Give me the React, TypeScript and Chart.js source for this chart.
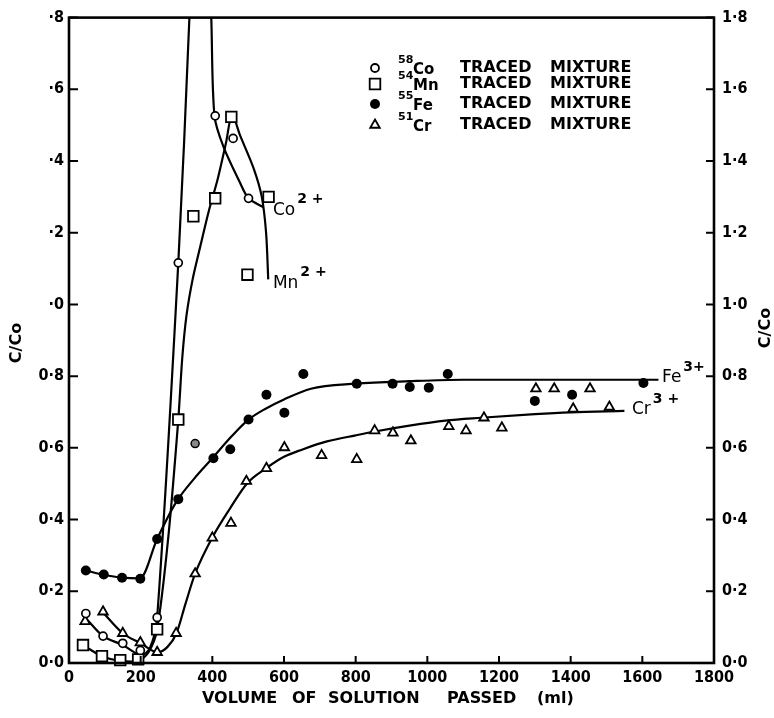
import React, { useEffect, useRef } from 'react';
import { Chart, registerables } from 'chart.js';

Chart.register(...registerables);

// ---------- axes ----------
const X_MIN = 0;
const X_MAX = 1800;
const Y_MIN = 0;
const Y_MAX = 1.8;
const xTickValues = [0, 200, 400, 600, 800, 1000, 1200, 1400, 1600, 1800];
const xTickLabels = ['0', '200', '400', '600', '800', '1000', '1200', '1400', '1600', '1800'];
const yTickValues = [0, 0.2, 0.4, 0.6, 0.8, 1.0, 1.2, 1.4, 1.6, 1.8];
const yLeftTickLabels = ['0·0', '0·2', '0·4', '0·6', '0·8', '·0', '·2', '·4', '·6', '·8'];
const yRightTickLabels = ['0·0', '0·2', '0·4', '0·6', '0·8', '1·0', '1·2', '1·4', '1·6', '1·8'];
const xTitleWords = ['VOLUME', 'OF', 'SOLUTION', 'PASSED', '(ml)'];
const yTitle = 'C/Co';

// ---------- measured points [volume ml, C/Co] ----------
const coPoints: [number, number][] = [
  [47, 0.138], [95, 0.075], [150, 0.055], [199, 0.035], [246, 0.127],
  [305, 1.116], [408, 1.526], [458, 1.463], [501, 1.296],
];
const mnPoints: [number, number][] = [
  [39, 0.05], [92, 0.019], [143, 0.008], [193, 0.01], [246, 0.094],
  [305, 0.679], [347, 1.246], [408, 1.296], [453, 1.523], [498, 1.083], [557, 1.3],
];
const fePoints: [number, number][] = [
  [47, 0.258], [97, 0.247], [148, 0.238], [199, 0.235], [246, 0.346],
  [305, 0.457], [403, 0.571], [450, 0.596], [501, 0.679], [551, 0.748],
  [601, 0.698], [654, 0.806], [803, 0.779], [903, 0.779], [951, 0.77],
  [1004, 0.768], [1057, 0.806], [1300, 0.731], [1404, 0.748], [1603, 0.781],
];
const feHalfPoints: [number, number][] = [[352, 0.612]];
const crPoints: [number, number][] = [
  [45, 0.116], [95, 0.143], [150, 0.083], [199, 0.057], [246, 0.03],
  [299, 0.083], [352, 0.249], [400, 0.349], [452, 0.39], [495, 0.507],
  [551, 0.543], [601, 0.601], [705, 0.579], [803, 0.568], [853, 0.648],
  [904, 0.642], [954, 0.62], [1060, 0.66], [1108, 0.648], [1158, 0.684],
  [1208, 0.656], [1303, 0.765], [1354, 0.765], [1407, 0.709], [1454, 0.765], [1508, 0.714],
];

// ---------- hand-drawn fitted curves [volume ml, C/Co] ----------
const coCurve: [number, number][] = [
  [47, 0.125], [95, 0.075], [150, 0.05], [200, 0.022], [225, 0.04], [246, 0.127],
  [305, 1.116], [336, 1.8], [366, 2.6], [397, 1.8],
  [406, 1.526], [431, 1.44], [478, 1.338], [501, 1.296], [543, 1.271],
];
const mnCurve: [number, number][] = [
  [39, 0.05], [92, 0.019], [143, 0.006], [193, 0.006], [222, 0.03], [246, 0.094],
  [277, 0.35], [305, 0.679], [316, 0.85], [328, 0.97], [345, 1.07], [366, 1.16],
  [390, 1.26], [415, 1.35], [438, 1.45], [455, 1.528], [478, 1.47], [515, 1.38],
  [538, 1.3], [550, 1.2], [556, 1.07],
];
const feCurve: [number, number][] = [
  [47, 0.258], [97, 0.246], [148, 0.238], [198, 0.236], [246, 0.346], [300, 0.45],
  [350, 0.515], [400, 0.571], [450, 0.628], [500, 0.678], [550, 0.71], [600, 0.735],
  [675, 0.765], [800, 0.779], [950, 0.786], [1100, 0.79], [1645, 0.79],
];
const crCurve: [number, number][] = [
  [95, 0.141], [150, 0.083], [200, 0.055], [248, 0.03], [275, 0.045], [300, 0.083],
  [325, 0.165], [352, 0.249], [400, 0.35], [450, 0.432], [498, 0.502], [550, 0.543],
  [600, 0.575], [650, 0.595], [720, 0.618], [800, 0.635], [850, 0.645], [950, 0.662],
  [1050, 0.676], [1150, 0.684], [1300, 0.694], [1400, 0.699], [1550, 0.703],
];

// ---------- labels ----------
const legendIsotopes = ['58', '54', '55', '51'];
const legendElements = ['Co', 'Mn', 'Fe', 'Cr'];
const legendWords = ['TRACED', 'MIXTURE'];
const ionNames = ['Co', 'Mn', 'Fe', 'Cr'];
const ionCharges = ['2 +', '2 +', '3+', '3 +'];
const ionAnchorX = [569, 569, 1655, 1571];
const ionAnchorY = [1.263, 1.058, 0.795, 0.706];

const FONT_COND = "'DejaVu Sans Condensed', 'Liberation Sans Narrow', 'DejaVu Sans', sans-serif";
const FONT = "'DejaVu Sans', sans-serif";

const toXY = (arr: [number, number][]) => arr.map(([x, y]) => ({ x, y }));

function drawMarker(ctx: CanvasRenderingContext2D, kind: string, x: number, y: number) {
  ctx.save();
  ctx.strokeStyle = '#000';
  ctx.fillStyle = '#fff';
  ctx.lineWidth = 1.8;
  ctx.beginPath();
  if (kind === 'co') {
    ctx.arc(x, y, 4, 0, Math.PI * 2);
    ctx.fill(); ctx.stroke();
  } else if (kind === 'mn') {
    const s = 5.3;
    ctx.rect(x - s, y - s, 2 * s, 2 * s);
    ctx.fill(); ctx.stroke();
  } else if (kind === 'fe') {
    ctx.fillStyle = '#000';
    ctx.arc(x, y, 5, 0, Math.PI * 2);
    ctx.fill();
  } else {
    const r = 5.5;
    ctx.moveTo(x, y - r);
    ctx.lineTo(x + r * Math.sin(2 * Math.PI / 3), y - r * Math.cos(2 * Math.PI / 3));
    ctx.lineTo(x + r * Math.sin(4 * Math.PI / 3), y - r * Math.cos(4 * Math.PI / 3));
    ctx.closePath();
    ctx.fill(); ctx.stroke();
  }
  ctx.restore();
}

const decorPlugin = {
  id: 'decor',
  afterDraw(chart: any) {
    const { ctx, chartArea: a, scales } = chart;
    const xs = scales.x;
    const ys = scales.y;
    ctx.save();
    ctx.strokeStyle = '#000';
    ctx.lineWidth = 2.6;
    ctx.strokeRect(a.left, a.top, a.right - a.left, a.bottom - a.top);
    ctx.lineWidth = 2;
    ctx.beginPath();
    yTickValues.forEach((v) => {
      const py = ys.getPixelForValue(v);
      ctx.moveTo(a.left, py); ctx.lineTo(a.left + 9, py);
      ctx.moveTo(a.right, py); ctx.lineTo(a.right - 8, py);
    });
    xTickValues.forEach((v) => {
      const px = xs.getPixelForValue(v);
      ctx.moveTo(px, a.bottom); ctx.lineTo(px, a.bottom - 7);
    });
    ctx.stroke();

    ctx.fillStyle = '#000';
    ctx.textBaseline = 'middle';
    ctx.font = `bold 16px ${FONT}`;
    ctx.textAlign = 'left';
    const wordX = [202, 292, 328, 447, 537];
    xTitleWords.forEach((w, i) => ctx.fillText(w, wordX[i], 699));
    ctx.textAlign = 'center';
    ctx.save(); ctx.translate(17, 343); ctx.rotate(-Math.PI / 2); ctx.fillText(yTitle, 0, 0); ctx.restore();
    ctx.save(); ctx.translate(766, 328); ctx.rotate(-Math.PI / 2); ctx.fillText(yTitle, 0, 0); ctx.restore();

    const rows = [68, 84, 104, 125];
    const kinds = ['co', 'mn', 'fe', 'cr'];
    rows.forEach((ry, i) => {
      drawMarker(ctx, kinds[i], 375, ry);
      ctx.textAlign = 'left';
      ctx.font = `bold 11px ${FONT}`;
      ctx.fillText(legendIsotopes[i], 398, ry - 8);
      ctx.font = `bold 15px ${FONT}`;
      ctx.fillText(legendElements[i], 413, ry + 2);
      ctx.font = `bold 16px ${FONT}`;
      ctx.fillText(legendWords[0], 460, ry);
      ctx.fillText(legendWords[1], 550, ry);
    });

    ionNames.forEach((n, i) => {
      const px = xs.getPixelForValue(ionAnchorX[i]);
      const py = ys.getPixelForValue(ionAnchorY[i]);
      ctx.textAlign = 'left';
      ctx.font = `17px ${FONT}`;
      ctx.fillText(n, px, py);
      const w = ctx.measureText(n).width;
      ctx.font = `bold 14px ${FONT}`;
      ctx.fillText(ionCharges[i], px + w + 2, py - 11);
    });
    ctx.restore();
  },
};

export default function App() {
  const canvasRef = useRef<HTMLCanvasElement | null>(null);

  useEffect(() => {
    if (!canvasRef.current) return;
    const lineDs = (data: [number, number][], smooth: 'monotone' | 'spline') => ({
      type: 'line' as const,
      data: toXY(data),
      showLine: true,
      borderColor: '#000',
      borderWidth: 2.2,
      pointRadius: 0,
      fill: false,
      cubicInterpolationMode: smooth === 'monotone' ? ('monotone' as const) : ('default' as const),
      tension: smooth === 'monotone' ? 0 : 0.3,
      order: 2,
    });
    const pointDs = (data: [number, number][], style: string, radius: number, bg: string, bw: number) => ({
      type: 'scatter' as const,
      data: toXY(data),
      showLine: false,
      pointStyle: style,
      pointRadius: radius,
      pointBackgroundColor: bg,
      pointBorderColor: '#000',
      pointBorderWidth: bw,
      clip: 10,
      order: 1,
    });

    const chart = new Chart(canvasRef.current, {
      type: 'scatter',
      data: {
        datasets: [
          { label: 'Co curve', ...lineDs(coCurve, 'spline') },
          { label: 'Mn curve', ...lineDs(mnCurve, 'spline') },
          { label: 'Fe curve', ...lineDs(feCurve, 'monotone') },
          { label: 'Cr curve', ...lineDs(crCurve, 'monotone') },
          { label: '58Co', ...pointDs(coPoints, 'circle', 4, '#fff', 1.7) },
          { label: '54Mn', ...pointDs(mnPoints, 'rect', 7.5, '#fff', 1.8) },
          { label: '55Fe', ...pointDs(fePoints, 'circle', 5, '#000', 0) },
          { label: '55Fe (part)', ...pointDs(feHalfPoints, 'circle', 4, '#888', 1.5) },
          { label: '51Cr', ...pointDs(crPoints, 'triangle', 5.5, '#fff', 1.8) },
        ] as any,
      },
      options: {
        animation: false,
        responsive: false,
        events: [],
        layout: { padding: { top: 13, left: 0, right: 0, bottom: 0 } },
        plugins: { legend: { display: false }, tooltip: { enabled: false } },
        scales: {
          x: {
            type: 'linear',
            position: 'bottom',
            min: X_MIN,
            max: X_MAX,
            grid: { display: false, drawTicks: false },
            border: { display: false },
            ticks: {
              stepSize: 200,
              color: '#000',
              padding: 5,
              maxRotation: 0,
              autoSkip: false,
              font: { family: FONT_COND, size: 16, weight: 'bold' },
              callback: (v: any) => {
                const i = xTickValues.indexOf(Number(v));
                return i >= 0 ? xTickLabels[i] : '';
              },
            },
            afterFit: (s: any) => { s.height = 55; },
          },
          y: {
            type: 'linear',
            position: 'left',
            min: Y_MIN,
            max: Y_MAX,
            grid: { display: false, drawTicks: false },
            border: { display: false },
            ticks: {
              stepSize: 0.2,
              color: '#000',
              padding: 5,
              autoSkip: false,
              font: { family: FONT_COND, size: 16, weight: 'bold' },
              callback: (_v: any, i: number) => yLeftTickLabels[i] ?? '',
            },
            afterFit: (s: any) => { s.width = 69; },
          },
          y2: {
            type: 'linear',
            position: 'right',
            min: Y_MIN,
            max: Y_MAX,
            grid: { display: false, drawTicks: false },
            border: { display: false },
            ticks: {
              stepSize: 0.2,
              color: '#000',
              padding: 8,
              autoSkip: false,
              font: { family: FONT_COND, size: 16, weight: 'bold' },
              callback: (_v: any, i: number) => yRightTickLabels[i] ?? '',
            },
            afterFit: (s: any) => { s.width = 60; },
          },
        },
      } as any,
      plugins: [decorPlugin],
    });
    return () => chart.destroy();
  }, []);

  return (
    <div style={{ position: 'fixed', left: 0, top: 0, width: 774, height: 718, background: '#fff' }}>
      <canvas ref={canvasRef} width={774} height={718} style={{ display: 'block' }} />
    </div>
  );
}
